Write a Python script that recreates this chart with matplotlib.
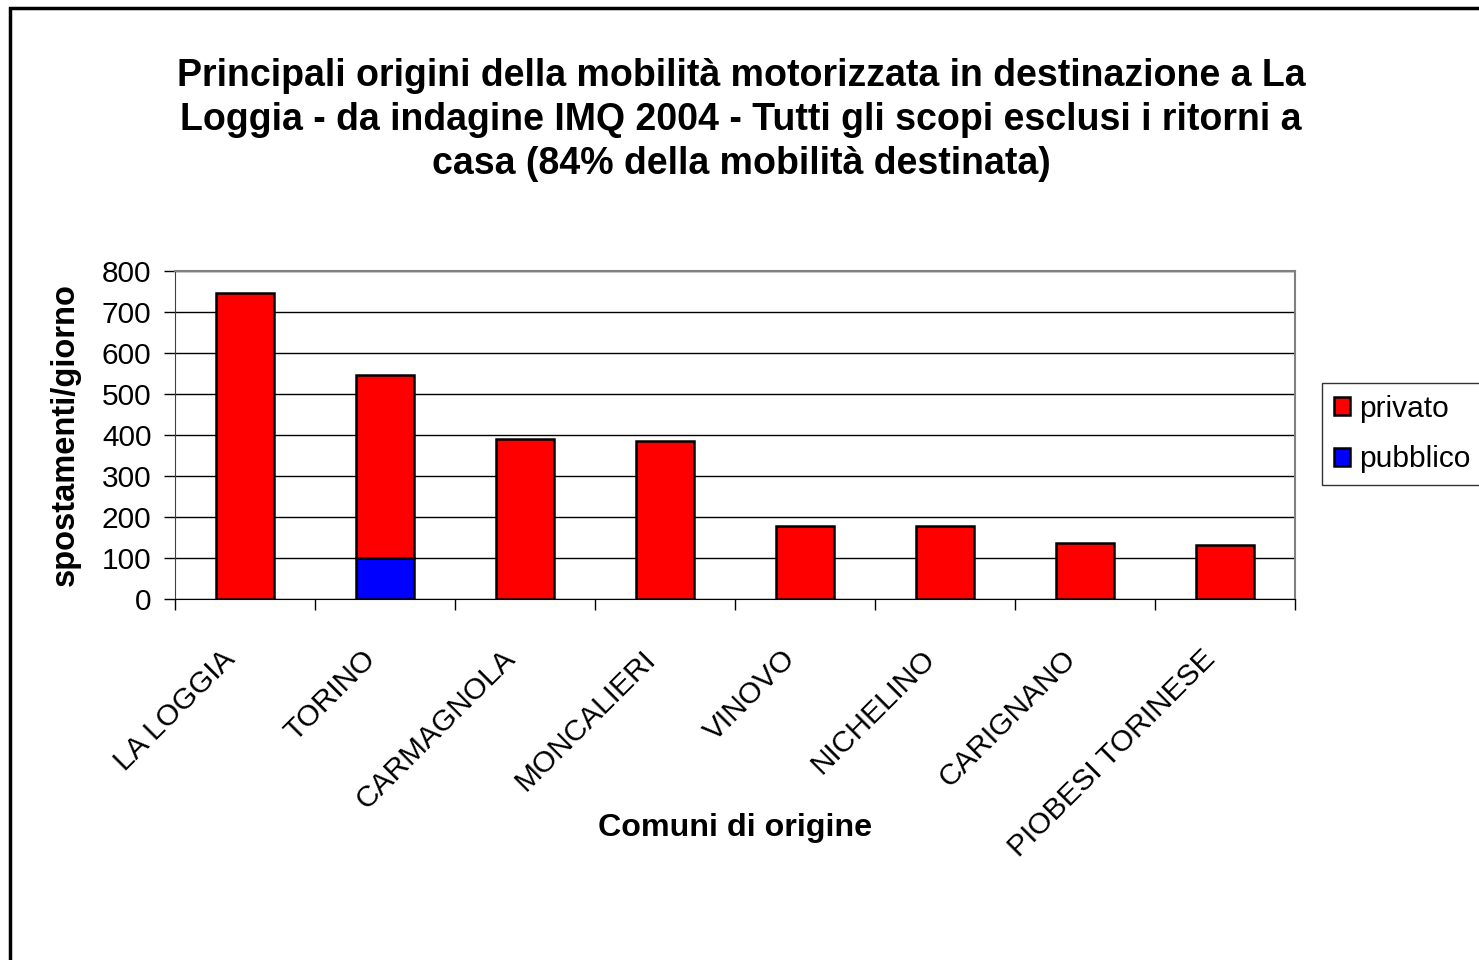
import matplotlib.pyplot as plt
from matplotlib.patches import Rectangle
import numpy as np

plt.rcParams['font.family'] = ['Liberation Sans', 'DejaVu Sans']

comuni = ['LA LOGGIA', 'TORINO', 'CARMAGNOLA', 'MONCALIERI', 'VINOVO',
          'NICHELINO', 'CARIGNANO', 'PIOBESI TORINESE']
pubblico = [0, 100, 0, 0, 0, 0, 0, 0]
privato = [747, 446, 391, 386, 178, 178, 137, 131]

fig = plt.figure(figsize=(14.79, 9.6), dpi=100)
ax = fig.add_axes([175 / 1479, 1 - 599 / 960, 1120 / 1479, 328 / 960])

x = np.arange(len(comuni))
ax.bar(x, pubblico, width=0.42, color='#0000FF', edgecolor='black', linewidth=1.8,
       label='pubblico', zorder=3)
ax.bar(x, privato, width=0.42, bottom=pubblico, color='#FF0000', edgecolor='black',
       linewidth=1.8, label='privato', zorder=3)

ax.set_xlim(-0.5, len(comuni) - 0.5)
ax.set_ylim(0, 800)
ax.set_yticks(range(0, 801, 100))
ax.yaxis.grid(True, color='black', linewidth=1, zorder=0)

# tick di categoria sui bordi, etichette (ruotate) poco a sinistra del centro
ax.set_xticks(np.arange(-0.5, len(comuni), 1.0))
ax.set_xticklabels([])
ax.set_xticks(x - 0.1, minor=True)
ax.set_xticklabels(comuni, minor=True, rotation=45, ha='right', va='center',
                   rotation_mode='anchor', fontsize=21.5)
ax.tick_params(axis='x', which='minor', length=0, pad=40)
ax.tick_params(axis='x', which='major', length=8, width=1, direction='out')
ax.tick_params(axis='y', length=8, width=1, direction='out', labelsize=21.5, pad=9)

for s in ['top', 'right']:
    ax.spines[s].set_color('#808080')
    ax.spines[s].set_linewidth(1.5)
ax.spines['left'].set_color('#404040')
ax.spines['bottom'].set_color('black')

ax.set_ylabel('spostamenti/giorno', fontsize=23.5, fontweight='bold')
ax.yaxis.set_label_coords((81 - 175) / 1120, 0.5)
fig.text(735 / 1479, 1 - 828 / 960, 'Comuni di origine', fontsize=23.2,
         fontweight='bold', ha='center', va='center')

fig.text(741 / 1479, 1 - 120 / 960,
         'Principali origini della mobilità motorizzata in destinazione a La\n'
         'Loggia - da indagine IMQ 2004 - Tutti gli scopi esclusi i ritorni a\n'
         'casa (84% della mobilità destinata)',
         fontsize=27, fontweight='bold', ha='center', va='center', linespacing=1.3)

handles, labels = ax.get_legend_handles_labels()
leg = fig.legend(handles[::-1], labels[::-1], loc='upper left',
                 bbox_to_anchor=(1322 / 1479, 1 - 383 / 960), fontsize=21.5,
                 frameon=True, fancybox=False, edgecolor='black',
                 handlelength=0.55, handleheight=0.55, handletextpad=0.3,
                 labelspacing=0.75, borderpad=0.4, borderaxespad=0)
leg.get_frame().set_linewidth(1)

# cornice esterna del grafico
fig.patches.append(Rectangle((10 / 1479, -0.05), 1.1, 1 - 8 / 960 + 0.05,
                             transform=fig.transFigure, fill=False,
                             edgecolor='black', linewidth=2.5))

fig.savefig('out.png', dpi=100)
